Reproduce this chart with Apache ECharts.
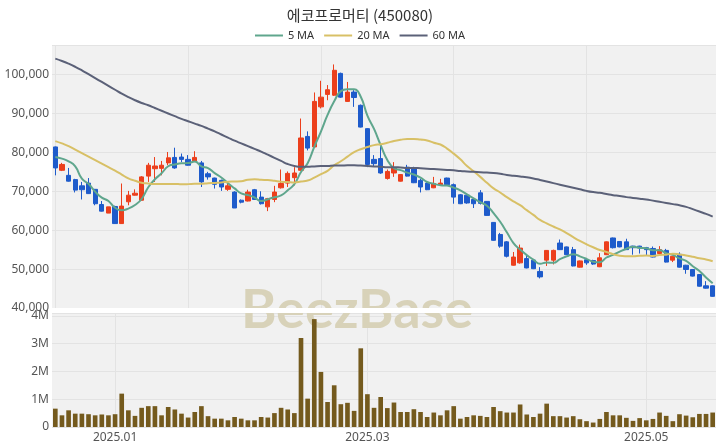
<!DOCTYPE html>
<html><head><meta charset="utf-8">
<script src="https://cdn.jsdelivr.net/npm/echarts@6/dist/echarts.min.js"></script>
<style>html,body{margin:0;padding:0;background:#fff}#c{width:720px;height:448px}</style>
</head><body><div id="c"></div><script>
const dates = [
 '2024-12-17','2024-12-18','2024-12-19','2024-12-20','2024-12-23','2024-12-24','2024-12-26','2024-12-27','2024-12-30',
 '2025-01-02','2025-01-03','2025-01-06','2025-01-07','2025-01-08','2025-01-09','2025-01-10','2025-01-13','2025-01-14','2025-01-15','2025-01-16','2025-01-17','2025-01-20','2025-01-21','2025-01-22','2025-01-23','2025-01-24','2025-01-31',
 '2025-02-03','2025-02-04','2025-02-05','2025-02-06','2025-02-07','2025-02-10','2025-02-11','2025-02-12','2025-02-13','2025-02-14','2025-02-17','2025-02-18','2025-02-19','2025-02-20','2025-02-21','2025-02-24','2025-02-25','2025-02-26','2025-02-27','2025-02-28',
 '2025-03-04','2025-03-05','2025-03-06','2025-03-07','2025-03-10','2025-03-11','2025-03-12','2025-03-13','2025-03-14','2025-03-17','2025-03-18','2025-03-19','2025-03-20','2025-03-21','2025-03-24','2025-03-25','2025-03-26','2025-03-27','2025-03-28','2025-03-31',
 '2025-04-01','2025-04-02','2025-04-03','2025-04-04','2025-04-07','2025-04-08','2025-04-09','2025-04-10','2025-04-11','2025-04-14','2025-04-15','2025-04-16','2025-04-17','2025-04-18','2025-04-21','2025-04-22','2025-04-23','2025-04-24','2025-04-25','2025-04-28','2025-04-29','2025-04-30',
 '2025-05-02','2025-05-07','2025-05-08','2025-05-09','2025-05-12','2025-05-13','2025-05-14','2025-05-15','2025-05-16','2025-05-19','2025-05-20'
];
const opens = [81400,75400,74100,73000,71400,72100,70500,66600,64400,66100,61700,67300,69000,67700,73900,75800,75900,77300,78700,78800,
 78200,77800,77300,74500,73400,72800,70500,69800,67700,67500,70400,68500,66000,67900,70900,72100,73500,75400,84100,81400,
 91700,94900,94700,100300,93100,95500,92100,86100,78200,78400,73300,74700,72600,76200,76000,72800,72100,70900,71700,73400,
 71700,69100,69000,67900,69600,67400,62000,58900,57000,51000,51600,52700,52300,49400,52300,52300,56700,55700,55000,50500,
 52400,52200,50600,53700,58000,57100,57000,55900,55900,55500,55300,54000,54800,52300,53800,51000,49900,48600,45700,45700];
const closes = [76000,76900,72600,70300,70400,69400,66800,64900,66000,61700,66200,69000,69500,73700,76700,76500,76700,78600,76000,78200,
 76700,78700,72400,73700,71800,71100,71400,65700,67200,69800,67900,66800,68100,69800,72000,74600,74700,83700,81100,93100,
 94200,96100,101100,94200,95500,94100,86500,76900,77100,74700,75100,76000,74300,73900,72200,71100,70400,72000,72100,71700,
 68500,66800,67000,66800,66900,63800,57400,55900,53300,53100,55400,50300,50100,48000,54800,54800,55000,53700,50800,52100,
 51600,51300,52900,57000,55500,55700,55000,55500,55500,55000,53100,55000,51800,53300,50500,49900,48200,45600,45100,43000];
const highs = [81500,77300,76000,73200,72400,73400,70600,67500,66000,66300,72000,70100,70500,73900,77300,78800,77800,80100,81200,79700,
 79300,80300,77800,75000,73500,73000,72000,70000,67900,70400,70600,70000,68300,71400,75600,75100,76200,88700,85400,95400,
 98400,97300,102600,100500,98100,96000,92300,86200,79300,81600,75600,77500,74400,76800,76300,73200,72300,73700,73200,73500,
 72000,69300,69200,68200,70300,67500,62100,59300,57200,54400,56300,53500,52400,50500,54900,55000,57600,55800,55700,52200,
 52600,52400,54100,57100,58100,57200,57800,56000,56000,55700,55800,55900,55200,53400,54300,51100,50000,48700,46900,45800];
const lows = [74100,75200,72500,69700,67900,69300,66400,64800,64400,61600,61600,66400,68900,67600,72400,72400,74100,76700,75800,77500,
 76600,77500,71100,73000,70700,70100,70100,65700,66900,67400,67800,66600,64900,67200,70700,71100,71500,75300,80500,81200,
 91300,93400,94500,94000,93000,91700,86400,76200,76400,74500,73000,73700,72500,73800,72100,69700,70300,70800,71600,71600,
 66800,66700,66800,65700,66600,63700,57300,55500,53000,50900,51400,50200,50000,47600,50800,51200,54900,53600,50700,50400,
 51100,51100,50500,53600,55300,55600,54900,53700,54000,53500,53000,53900,51700,51800,50400,48800,48100,45500,45000,42900];
const volumes = [660000,420000,600000,480000,480000,460000,420000,450000,420000,460000,1200000,600000,400000,690000,750000,750000,420000,720000,630000,480000,
 340000,540000,750000,390000,300000,300000,240000,360000,300000,240000,240000,360000,340000,500000,690000,630000,500000,3200000,1020000,3880000,
 1980000,900000,1500000,820000,870000,580000,2830000,1180000,690000,1080000,680000,880000,540000,540000,640000,540000,360000,520000,420000,600000,
 750000,300000,360000,420000,400000,360000,720000,570000,520000,520000,810000,450000,360000,480000,840000,390000,390000,340000,390000,280000,
 210000,160000,290000,540000,420000,420000,330000,220000,320000,240000,290000,520000,400000,210000,460000,410000,350000,470000,470000,520000];
// moving-average values before enough in-window closes exist
const ma5Head = [78800,78400,77700,76400];
const ma20Head = [82900,82300,81600,80700,79800,78900,78000,77100,76200,75300,74300,73300,72700,72200,72000,71900,71900,71900,71900];
const ma60 = [104100,103500,102800,102000,101100,100100,99100,98100,97100,96100,95100,94200,93400,92700,92100,91400,90700,90000,89300,88600,
 88000,87400,86800,86100,85400,84600,83800,83000,82300,81600,80900,80200,79400,78600,77800,77000,76500,76300,76300,76400,
 76500,76500,76600,76600,76700,76700,76600,76500,76400,76300,76200,76200,76100,76000,76000,75900,75800,75700,75600,75500,
 75400,75200,75100,75000,74900,74800,74700,74500,74200,74000,73800,73600,73300,72900,72500,72100,71700,71300,70900,70500,
 70100,69800,69600,69300,69000,68800,68500,68300,68100,67900,67600,67300,67000,66700,66400,66000,65400,64800,64200,63500];

function movingAvg(n, head) {
  return closes.map((c, i) => {
    if (i < n - 1) return head[i];
    let s = 0; for (let k = i - n + 1; k <= i; k++) s += closes[k];
    return Math.round(s / n);
  });
}
const ma5 = movingAvg(5, ma5Head);
const ma20 = movingAvg(20, ma20Head);
const candles = dates.map((d, i) => [opens[i], closes[i], lows[i], highs[i]]);
const isMonthMark = (i) => i > 0 && dates[i].slice(0,7) !== dates[i-1].slice(0,7) && ['01','03','05'].includes(dates[i].slice(5,7));

const UP = '#ec3f1c', DOWN = '#1e5bcb';
const labelStyle = { color: '#555', fontSize: 12, fontFamily: 'Noto Sans' };
const chart = echarts.init(document.getElementById('c'));
chart.setOption({
  animation: false,
  backgroundColor: '#fff',
  title: { text: '에코프로머티 (450080)', left: 'center', top: 3,
    textStyle: { fontSize: 15, fontWeight: 'normal', color: '#333', fontFamily: 'Noto Sans CJK KR' } },
  legend: { top: 25, left: 'center', icon: 'rect', itemWidth: 28, itemHeight: 2, itemGap: 10,
    textStyle: { fontSize: 11, color: '#333', fontFamily: 'Noto Sans' },
    data: ['5 MA', '20 MA', '60 MA'] },
  grid: [
    { left: 52, right: 4, top: 45, height: 263, show: true, backgroundColor: '#f1f1f1', borderWidth: 0 },
    { left: 52, right: 4, top: 313, height: 114, show: true, backgroundColor: '#f1f1f1', borderWidth: 0 }
  ],
  xAxis: [
    { type: 'category', gridIndex: 0, data: dates, boundaryGap: true,
      axisLine: { show: false }, axisTick: { show: false }, axisLabel: { show: false },
      splitLine: { show: true, interval: 19, alignWithLabel: true, lineStyle: { color: '#e3e3e3' } } },
    { type: 'category', gridIndex: 1, data: dates, boundaryGap: true,
      axisLine: { show: false }, axisTick: { show: false },
      axisLabel: Object.assign({ interval: (i) => isMonthMark(i), margin: 5,
        formatter: (v) => v.slice(0,7).replace('-', '.') }, labelStyle),
      splitLine: { show: true, interval: (i) => isMonthMark(i), alignWithLabel: true, lineStyle: { color: '#e3e3e3' } } }
  ],
  yAxis: [
    { type: 'value', gridIndex: 0, min: 40000, max: 107600, interval: 10000,
      axisLine: { show: false }, axisTick: { show: false },
      axisLabel: Object.assign({ margin: 3, showMaxLabel: false,
        formatter: (v) => v.toLocaleString('en-US') }, labelStyle),
      splitLine: { lineStyle: { color: '#e3e3e3' } } },
    { type: 'value', gridIndex: 1, min: 0, max: 4100000, interval: 1000000,
      axisLine: { show: false }, axisTick: { show: false },
      axisLabel: Object.assign({ margin: 3, showMaxLabel: false,
        formatter: (v) => v === 0 ? '0' : (v / 1e6) + 'M' }, labelStyle),
      splitLine: { lineStyle: { color: '#e3e3e3' } } }
  ],
  graphic: [
    { type: 'text', x: 357, y: 311, z: 1, silent: true,
      style: { text: 'BeezBase', font: 'bold 54px Lato', fill: '#d8d2b9', align: 'center', verticalAlign: 'middle' } },
    { type: 'rect', z: 1, silent: true, shape: { x: 52, y: 308, width: 664, height: 5 }, style: { fill: '#ffffff' } }
  ],
  series: [
    { type: 'candlestick', name: 'price', xAxisIndex: 0, yAxisIndex: 0, data: candles, barWidth: '72%',
      itemStyle: { color: UP, color0: DOWN, borderColor: UP, borderColor0: DOWN, borderWidth: 1 }, z: 3 },
    { type: 'line', name: '5 MA', xAxisIndex: 0, yAxisIndex: 0, data: ma5, smooth: true, symbol: 'none',
      lineStyle: { width: 2, color: '#5fa68d' }, itemStyle: { color: '#5fa68d' }, z: 4 },
    { type: 'line', name: '20 MA', xAxisIndex: 0, yAxisIndex: 0, data: ma20, smooth: true, symbol: 'none',
      lineStyle: { width: 2, color: '#d8c066' }, itemStyle: { color: '#d8c066' }, z: 4 },
    { type: 'line', name: '60 MA', xAxisIndex: 0, yAxisIndex: 0, data: ma60, smooth: true, symbol: 'none',
      lineStyle: { width: 2, color: '#5b6178' }, itemStyle: { color: '#5b6178' }, z: 4 },
    { type: 'bar', name: 'volume', xAxisIndex: 1, yAxisIndex: 1, data: volumes, barWidth: '70%',
      itemStyle: { color: '#745a1d' }, z: 3 }
  ]
});
</script></body></html>
